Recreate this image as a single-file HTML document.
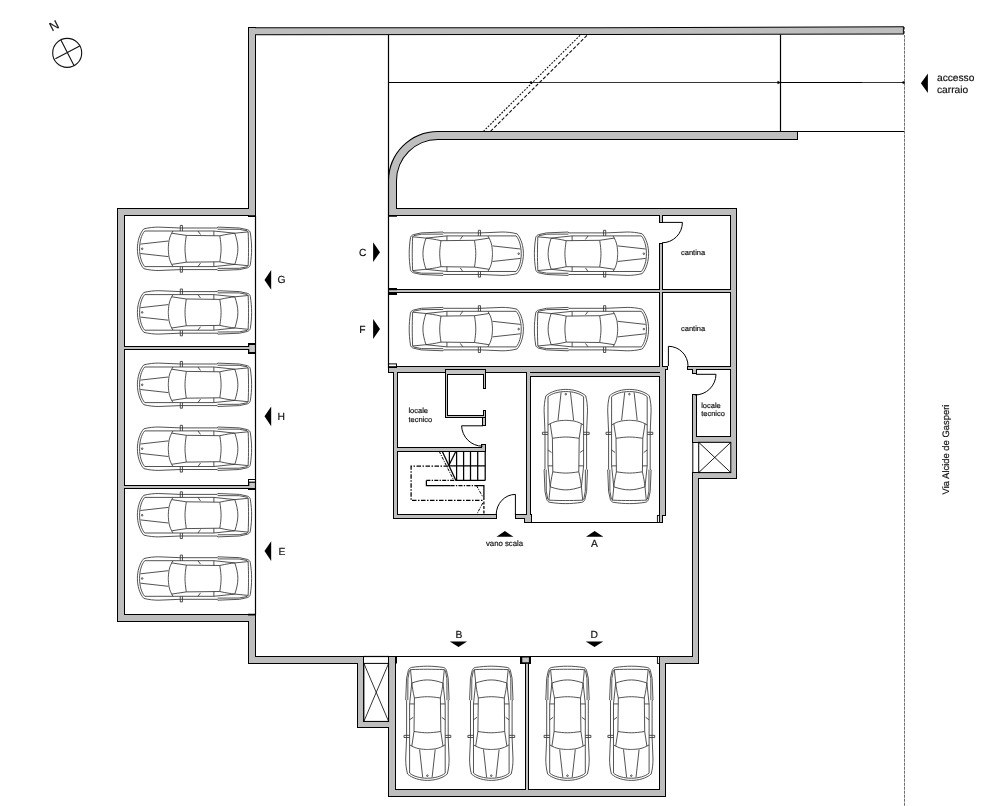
<!DOCTYPE html>
<html><head><meta charset="utf-8"><title>Pianta piano interrato</title>
<style>
html,body{margin:0;padding:0;background:#fff;}
body{width:986px;height:806px;overflow:hidden;}
svg{display:block;will-change:transform;}
text{font-family:"Liberation Sans",sans-serif;fill:#111;text-rendering:geometricPrecision;stroke:#111;stroke-width:0.18px;}
</style></head><body>
<svg width="986" height="806" viewBox="0 0 986 806">
<defs>
<g id="walls">
<polygon points="249.3,28.2 600,28.2 902.9,27.2 902.9,33.5 600,34.0 249.3,34.2"/>
<rect x="249.00" y="28.00" width="6.00" height="188.00"/>
<rect x="118.00" y="209.00" width="137.00" height="6.00"/>
<rect x="118.00" y="209.00" width="6.00" height="412.00"/>
<rect x="118.00" y="615.00" width="137.00" height="6.00"/>
<rect x="249.00" y="615.00" width="6.00" height="48.00"/>
<rect x="249.00" y="657.00" width="114.00" height="6.00"/>
<rect x="358.00" y="657.00" width="5.00" height="70.00"/>
<rect x="358.00" y="722.00" width="37.00" height="5.00"/>
<rect x="389.00" y="657.00" width="6.00" height="139.00"/>
<rect x="389.00" y="790.00" width="276.00" height="6.00"/>
<rect x="660.00" y="657.00" width="5.00" height="139.00"/>
<rect x="660.00" y="657.00" width="38.00" height="6.00"/>
<rect x="693.00" y="473.00" width="5.00" height="190.00"/>
<rect x="693.00" y="473.00" width="43.00" height="5.00"/>
<rect x="731.00" y="209.00" width="5.00" height="269.00"/>
<rect x="389.00" y="209.00" width="347.00" height="6.00"/>
<rect x="693.00" y="395.00" width="3.00" height="47.00"/>
<rect x="693.00" y="437.00" width="43.00" height="5.00"/>
<rect x="389.00" y="367.00" width="276.00" height="5.00"/>
<rect x="394.00" y="371.00" width="3.00" height="147.00"/>
<rect x="394.00" y="515.00" width="102.00" height="3.00"/>
<rect x="516.00" y="515.00" width="11.00" height="3.00"/>
<rect x="525.00" y="515.00" width="6.00" height="7.00"/>
<rect x="527.00" y="371.00" width="3.00" height="151.00"/>
<rect x="527.00" y="373.00" width="138.00" height="3.00"/>
<rect x="660.00" y="369.00" width="5.00" height="146.00"/>
<rect x="660.00" y="515.00" width="2.00" height="7.00"/>
<rect x="397.00" y="448.00" width="88.00" height="3.00"/>
<rect x="482.00" y="445.00" width="3.00" height="3.00"/>
<rect x="660.00" y="214.00" width="2.00" height="8.00"/>
<rect x="660.00" y="244.00" width="2.00" height="124.00"/>
<rect x="389.00" y="290.00" width="342.00" height="2.00"/>
<rect x="688.00" y="367.00" width="43.00" height="2.00"/>
<rect x="660.00" y="367.00" width="7.00" height="2.00"/>
<rect x="693.00" y="369.00" width="3.00" height="4.00"/>
<rect x="124.00" y="347.00" width="125.00" height="2.00"/>
<rect x="124.00" y="486.00" width="125.00" height="2.00"/>
<rect x="526.00" y="657.00" width="2.00" height="133.00"/>
<rect x="521.00" y="657.00" width="9.00" height="6.00"/>
<path d="M 389,215 L 389,180.8 A 48.80000000000001,48.80000000000001 0 0 1 437.8,132 L 797,132 L 797,139 L 437.8,139 A 41.80000000000001,41.80000000000001 0 0 0 396,180.8 L 396,215 Z"/>
</g>
<g id="box">
<rect x="446.00" y="370.00" width="1.00" height="47.00"/>
<rect x="446.00" y="370.00" width="39.00" height="4.00"/>
<rect x="484.00" y="370.00" width="1.00" height="18.00"/>
<rect x="484.00" y="411.00" width="1.00" height="6.00"/>
<rect x="446.00" y="416.00" width="39.00" height="1.00"/>
<rect x="483.00" y="418.00" width="2.00" height="7.00"/>
</g>
<g id="car" transform="scale(0.988,1)" fill="none" stroke="#333" stroke-width="0.85" stroke-linecap="butt" stroke-linejoin="round">
<path d="M -58,0 C -58,-7 -56,-15 -51.5,-19.9 C -46,-21.3 -41,-21.7 -36.3,-21.7 L -14.6,-20.8 L 22.8,-20.8 L 23.4,-21.7 L 45.4,-20.8 L 53.2,-19.1 C 55,-18.5 56,-17.5 56.3,-16 C 57.2,-10 57.6,-5 57.6,0"/>
<path d="M -55.8,0 C -55.8,-7 -54,-14 -50.6,-17.8 L -22,-17.8"/>
<path d="M -55,-4.7 L -26.7,-7.8"/>
<path d="M -23.3,-15.6 C -25,-12.5 -26,-9 -26.3,-6 C -26.6,-3 -26.7,-1 -26.7,0"/>
<path d="M -22,-17.8 L -23.3,-15.6 L -8.5,-13.4 L 25.4,-13"/>
<path d="M -8.5,-13.4 C -9.3,-8 -9.8,-4 -9.8,0"/>
<path d="M -22,-17.8 L 19.4,-17.8 L 40.6,-15.6"/>
<path d="M 19.4,-17.8 L 19.4,-13 M 3.3,-17.8 L 5.9,-14.3"/>
<path d="M 25.4,-13 C 26.2,-8 26.7,-4 26.7,0"/>
<path d="M 40.6,-15.6 C 42.5,-10 43.7,-5 43.7,0"/>
<path d="M 25.4,-13 C 32,-14.5 36,-15 40.6,-15.6"/>
<path d="M 40.6,-15.6 L 54.1,-16.9"/>
<path d="M 54.1,-16.9 C 54.4,-10 54.5,-5 54.5,0"/>
<path d="M 23.2,-19.6 L 45,-19.5 L 53,-18 L 54.1,-16.9"/>
<path d="M -14.6,-17.8 L -14.6,-23.4 L -12.4,-23.4 L -12.4,-17.8"/>
<g transform="scale(1,-1)">
<path d="M -58,0 C -58,-7 -56,-15 -51.5,-19.9 C -46,-21.3 -41,-21.7 -36.3,-21.7 L -14.6,-20.8 L 22.8,-20.8 L 23.4,-21.7 L 45.4,-20.8 L 53.2,-19.1 C 55,-18.5 56,-17.5 56.3,-16 C 57.2,-10 57.6,-5 57.6,0"/>
<path d="M -55.8,0 C -55.8,-7 -54,-14 -50.6,-17.8 L -22,-17.8"/>
<path d="M -55,-4.7 L -26.7,-7.8"/>
<path d="M -23.3,-15.6 C -25,-12.5 -26,-9 -26.3,-6 C -26.6,-3 -26.7,-1 -26.7,0"/>
<path d="M -22,-17.8 L -23.3,-15.6 L -8.5,-13.4 L 25.4,-13"/>
<path d="M -8.5,-13.4 C -9.3,-8 -9.8,-4 -9.8,0"/>
<path d="M -22,-17.8 L 19.4,-17.8 L 40.6,-15.6"/>
<path d="M 19.4,-17.8 L 19.4,-13 M 3.3,-17.8 L 5.9,-14.3"/>
<path d="M 25.4,-13 C 26.2,-8 26.7,-4 26.7,0"/>
<path d="M 40.6,-15.6 C 42.5,-10 43.7,-5 43.7,0"/>
<path d="M 25.4,-13 C 32,-14.5 36,-15 40.6,-15.6"/>
<path d="M 40.6,-15.6 L 54.1,-16.9"/>
<path d="M 54.1,-16.9 C 54.4,-10 54.5,-5 54.5,0"/>
<path d="M 23.2,-19.6 L 45,-19.5 L 53,-18 L 54.1,-16.9"/>
<path d="M -14.6,-17.8 L -14.6,-23.4 L -12.4,-23.4 L -12.4,-17.8"/>
</g><circle cx="-53.2" cy="0" r="0.8"/></g>
</defs>
<rect width="986" height="806" fill="#fff"/>

<!-- walls: outline pass then fill pass -->
<use href="#walls" fill="#000" stroke="#000" stroke-width="2.0" stroke-linejoin="miter"/>
<use href="#walls" fill="#bebebe" stroke="none"/>
<use href="#box" fill="#000" stroke="#000" stroke-width="2.0"/>
<use href="#box" fill="#c4c4c4" stroke="none"/>

<!-- special piers -->
<g stroke="none">
<rect x="248" y="343" width="8" height="11" fill="#000"/>
<rect x="249.3" y="345" width="5.7" height="7" fill="#c8c8c8"/>
<rect x="247" y="347" width="4.5" height="2" fill="#bebebe"/>
<rect x="248" y="479" width="8" height="11" fill="#000"/>
<rect x="249" y="480" width="6" height="1.6" fill="#fff"/>
<rect x="249.3" y="482.8" width="5.7" height="5.2" fill="#c8c8c8"/>
<rect x="247" y="486" width="4.5" height="2" fill="#bebebe"/>
<rect x="388" y="288" width="9" height="7" fill="#000"/>
<rect x="389" y="290.2" width="9" height="1.8" fill="#c4c4c4"/>
<rect x="520.2" y="656" width="10.6" height="7.8" fill="#000"/>
<rect x="522.3" y="657.5" width="6.6" height="4.8" fill="#c6c6c6"/>
<rect x="388" y="363.4" width="9" height="4.6" fill="#000"/>
<rect x="389" y="364.4" width="7" height="1.8" fill="#fff"/>
</g>

<!-- thin lines -->
<g fill="none" stroke="#000" stroke-width="1.2">
<path d="M388.5,35 V368"/>
<path d="M388.5,82.5 H531"/>
<path d="M531,82.5 H904" stroke="#333" stroke-width="1"/>
<path d="M780.5,82.5 H862" stroke-width="1.1"/>
<path d="M780.5,34.5 V131.5"/>
<path d="M797,131.5 H904.5"/>
<path d="M255.5,216 V614.5"/>
<path d="M530.5,522.5 H661"/>
<path d="M395.5,656.5 H659"/>
<path d="M363.5,656.5 H389"/>
<rect x="657.4" y="656.5" width="2" height="6.9" fill="#fff" stroke-width="0.9"/>
<rect x="657.4" y="515.5" width="2" height="7" fill="#fff" stroke-width="0.9"/>
<!-- thick ticks -->
<path d="M248,216 H256 M248,614.6 H256 M388,215.9 H397" stroke-width="1.7"/>
<path d="M396.2,656.3 V663.4" stroke-width="1.6"/>
</g>

<!-- dashed lines -->
<g fill="none" stroke="#555" stroke-width="1">
<path d="M904.5,35 V806" stroke="#c8c8c8"/>
<path d="M904.5,27 V806" stroke-dasharray="2.6 1.4" stroke="#707070"/>
<path d="M483.4,131.3 L580.3,35" stroke="#111" stroke-dasharray="1.8 1.4" stroke-width="1.1"/>
<path d="M490.5,131.3 L587.4,35" stroke="#111" stroke-dasharray="3.5 1.8" stroke-width="1.1"/>
</g>
<circle cx="531" cy="82.5" r="1.2" fill="#000"/>
<circle cx="903.5" cy="82.5" r="1.3" fill="#000"/>
<path d="M777.5,80.7 L781,82.5 L777.5,84.3 Z" fill="#000"/>

<!-- X boxes -->
<g fill="none" stroke="#000" stroke-width="1">
<rect x="698.7" y="442.3" width="32.1" height="30.3" fill="#fff"/>
<path d="M698.7,442.3 L730.8,472.6 M730.8,442.3 L698.7,472.6" stroke-width="0.9"/>
<path d="M692.8,442 V473"/>
<rect x="363.9" y="663.4" width="24.7" height="58" fill="#fff"/>
<path d="M363.9,663.4 L388.6,721.4 M388.6,663.4 L363.9,721.4" stroke-width="0.8"/>
</g>

<!-- doors -->
<g fill="none" stroke="#000" stroke-width="1">
<path d="M662,222.4 H682.4 M682.4,222.4 A20.4,20.4 0 0 1 662,242.8"/>
<path d="M668.4,366 V346.3 M668.4,346.3 A19.6,19.6 0 0 1 688,365.9"/>
<path d="M696,374.3 H716 M716,374.3 A21,21 0 0 1 695,395"/>
<path d="M483,425.8 H461.6 M461.6,425.8 A21,21 0 0 0 482.6,446.2"/>
<path d="M515.4,515 V494.4 M515.4,494.4 A19.2,20.4 0 0 0 496.2,514.8"/>
</g>

<!-- stairs -->
<g fill="none" stroke="#000" stroke-width="1.25">
<path d="M456.6,451.3 V480.4 M463.6,451.3 V480.4 M470.5,451.3 V480.4 M477.7,451.3 V480.4 M485.2,451.3 V480.4"/>
<path d="M449.4,451.3 V465.8"/>
<path d="M448.5,465.8 H485.2 M455.9,480.4 H485.2"/>
<path d="M442.2,451.3 L455.9,480.4"/>
<path d="M455.9,451.3 L449.6,464"/>
<path d="M439.2,451.3 L453.8,480.4" stroke-dasharray="3 1.2 1 1.2" stroke-width="1"/>
<path d="M426.4,480.4 V485.6 H450.6 M476,485.6 H483.9 V497"/>
<path d="M426.4,480.4 H455.9 M450.6,485.6 H476" stroke-dasharray="4 1.3 1.3 1.3"/>
<path d="M483.9,497 V513.8" stroke-dasharray="3 1.5"/>
<path d="M448,466.2 H411.1 V500.4 H483.9" stroke-dasharray="4.5 1.5 1.5 1.5"/>
<path d="M476.5,485.6 L482.8,497 M482.8,503 L477,513.8" stroke-dasharray="3 1.2 1 1.2" stroke-width="1"/>
</g>

<!-- cars -->
<use href="#car" transform="translate(194.7,248.8) rotate(0)"/>
<use href="#car" transform="translate(194.7,312.4) rotate(0)"/>
<use href="#car" transform="translate(194.7,384.8) rotate(0)"/>
<use href="#car" transform="translate(194.7,448.7) rotate(0)"/>
<use href="#car" transform="translate(194.7,515.2) rotate(0)"/>
<use href="#car" transform="translate(194.7,578.5) rotate(0)"/>
<use href="#car" transform="translate(466.1,253.7) rotate(180)"/>
<use href="#car" transform="translate(591.3,253.7) rotate(180)"/>
<use href="#car" transform="translate(466.1,329.1) rotate(180)"/>
<use href="#car" transform="translate(591.3,329.1) rotate(180)"/>
<use href="#car" transform="translate(565.8,446.7) rotate(90)"/>
<use href="#car" transform="translate(629.4,446.7) rotate(90)"/>
<use href="#car" transform="translate(427.4,723.1) rotate(-90)"/>
<use href="#car" transform="translate(491.3,723.1) rotate(-90)"/>
<use href="#car" transform="translate(567.5,723.1) rotate(-90)"/>
<use href="#car" transform="translate(631.3,723.1) rotate(-90)"/>

<!-- arrows -->
<g fill="#000">
<path d="M264.5,279.9 L271.2,270 V289.8 Z"/>
<path d="M264.5,416.3 L271.2,406.4 V426.2 Z"/>
<path d="M264.5,551.1 L271.2,541.2 V561 Z"/>
<path d="M380,252.2 L373.1,242.3 V262.1 Z"/>
<path d="M380,329 L373.1,319.1 V338.9 Z"/>
<path d="M504.9,531.1 L496.5,536.8 H513.5 Z"/>
<path d="M594.6,531.1 L586,536.8 H603.4 Z"/>
<path d="M458.5,647 L449.8,641.6 H467.1 Z"/>
<path d="M594.5,647 L585.7,641.6 H603.2 Z"/>
<path d="M920.9,83.2 L927.9,73.6 V93 Z"/>
</g>

<!-- labels -->
<g font-size="10.3" style="stroke-width:0.12px">
<text x="277.5" y="283">G</text>
<text x="277.5" y="419.8">H</text>
<text x="278.6" y="554.7">E</text>
<text x="359" y="255.6">C</text>
<text x="359.3" y="333">F</text>
<text x="591" y="546.6">A</text>
<text x="455.4" y="638">B</text>
<text x="590.6" y="638">D</text>
</g>
<g font-size="10.2">
<text x="937" y="81.2">accesso</text>
<text x="937" y="93">carraio</text>
</g>
<g font-size="7.5" fill="#1a1a1a" style="stroke-width:0.05px">
<text x="681" y="254.8">cantina</text>
<text x="681" y="330.7">cantina</text>
<text x="408.4" y="413.1">locale</text>
<text x="408.4" y="422.2">tecnico</text>
<text x="701.2" y="407.7">locale</text>
<text x="701.2" y="415.5">tecnico</text>
<text x="485.9" y="545.8" font-size="7.8">vano scala</text>
</g>
<text font-size="9.42" transform="translate(949.2,494.4) rotate(-90)">Via Alcide de Gasperi</text>

<!-- north arrow -->
<g fill="none" stroke="#111" stroke-width="1.1">
<circle cx="67.2" cy="52.9" r="14.5"/>
<path d="M60.9,40.1 L74.1,65.7 M55.4,58.8 L79.7,46.1"/>
</g>
<text font-size="12.5" transform="translate(54.2,25.8) rotate(-27)" text-anchor="middle" dominant-baseline="central">N</text>
</svg>
</body></html>
